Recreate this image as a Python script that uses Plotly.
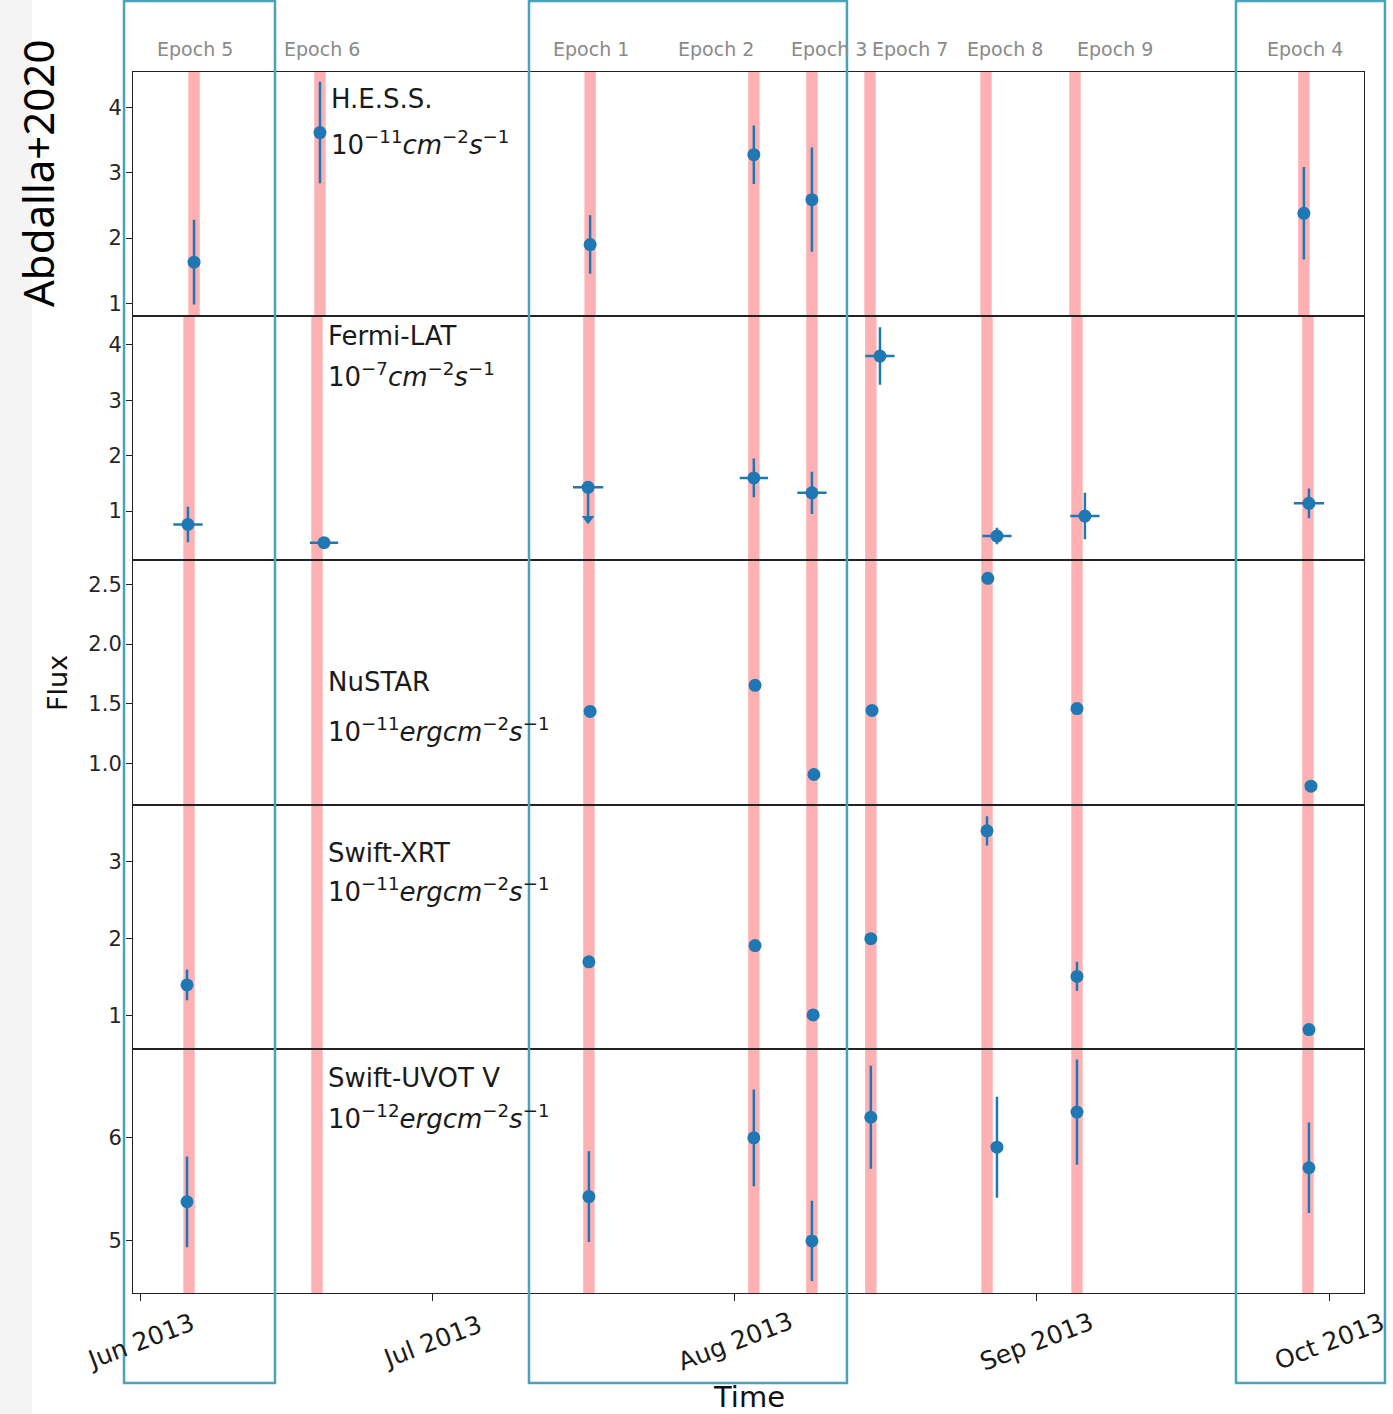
import pandas as pd
import plotly.graph_objects as go
from plotly.subplots import make_subplots

# ---------------- data ----------------
hess_t = ["2013-06-06 13:00", "2013-06-19 11:00", "2013-07-17 04:00",
          "2013-08-02 23:00", "2013-08-08 22:00", "2013-09-28 09:00"]
hess_f = [1.63, 3.62, 1.90, 3.28, 2.59, 2.38]
hess_e = [0.65, 0.78, 0.45, 0.45, 0.80, 0.71]

fermi_t = ["2013-06-05 22:00", "2013-06-19 21:00", "2013-07-16 23:00",
           "2013-08-02 23:00", "2013-08-08 22:00", "2013-08-15 21:30",
           "2013-08-27 21:30", "2013-09-05 22:00", "2013-09-28 21:30"]
fermi_f = [0.76, 0.43, 1.43, 1.60, 1.33, 3.80, 0.55, 0.91, 1.14]
fermi_e_up = [0.32, 0.05, 0.00, 0.35, 0.38, 0.52, 0.15, 0.42, 0.27]
fermi_e_dn = [0.32, 0.05, 0.53, 0.35, 0.38, 0.52, 0.15, 0.42, 0.27]
fermi_xerr_days = [1.5, 1.45, 1.55, 1.45, 1.5, 1.5, 1.5, 1.5, 1.55]
fermi_ul_t = ["2013-07-16 23:00"]
fermi_ul_f = [0.86]

nustar_t = ["2013-07-17 04:00", "2013-08-03 02:00", "2013-08-09 03:00",
            "2013-08-15 02:00", "2013-08-26 23:00", "2013-09-05 02:30",
            "2013-09-29 02:30"]
nustar_f = [1.436, 1.654, 0.908, 1.444, 2.55, 1.46, 0.81]
nustar_e = [0.02, 0.02, 0.02, 0.02, 0.02, 0.02, 0.02]

xrt_t = ["2013-06-05 19:40", "2013-07-17 01:00", "2013-08-03 02:00",
         "2013-08-09 01:00", "2013-08-14 23:00", "2013-08-26 21:00",
         "2013-09-05 02:30", "2013-09-28 21:30"]
xrt_f = [1.40, 1.70, 1.91, 1.01, 2.00, 3.40, 1.51, 0.82]
xrt_e = [0.20, 0.04, 0.04, 0.04, 0.04, 0.19, 0.19, 0.04]

uvot_t = ["2013-06-05 19:40", "2013-07-17 01:00", "2013-08-02 23:00",
          "2013-08-08 22:00", "2013-08-14 23:00", "2013-08-27 21:30",
          "2013-09-05 02:30", "2013-09-28 21:30"]
uvot_f = [5.38, 5.43, 6.00, 5.00, 6.20, 5.91, 6.25, 5.71]
uvot_e = [0.44, 0.44, 0.47, 0.39, 0.50, 0.49, 0.51, 0.44]

# epoch bands (top panel slightly shifted from the lower panels)
band_hess = ["2013-06-06 13:00", "2013-06-19 11:00", "2013-07-17 04:00",
             "2013-08-02 23:00", "2013-08-08 22:00", "2013-08-14 21:00",
             "2013-08-26 18:30", "2013-09-04 21:30", "2013-09-28 09:00"]
band_lower = ["2013-06-06 00:40", "2013-06-19 03:40", "2013-07-17 01:00",
              "2013-08-02 23:00", "2013-08-08 22:00", "2013-08-14 23:00",
              "2013-08-26 21:00", "2013-09-05 02:30", "2013-09-28 19:00"]

epoch_names = ["Epoch 5", "Epoch 6", "Epoch 1", "Epoch 2", "Epoch 3",
               "Epoch 7", "Epoch 8", "Epoch 9", "Epoch 4"]
epoch_label_t = ["2013-06-06 15:00", "2013-06-19 16:00", "2013-07-17 06:00",
                 "2013-07-30 02:00", "2013-08-10 16:00", "2013-08-18 23:00",
                 "2013-08-28 17:00", "2013-09-09 00:00", "2013-09-28 12:00"]

# highlighted epoch groups (teal boxes)
box_start = ["2013-05-30 08:37", "2013-07-10 21:30", "2013-09-21 09:50"]
box_end = ["2013-06-14 20:18", "2013-08-12 12:15", "2013-10-06 16:35"]

month_ticks = ["2013-06-01", "2013-07-01", "2013-08-01", "2013-09-01", "2013-10-01"]
month_labels = ["Jun 2013", "Jul 2013", "Aug 2013", "Sep 2013", "Oct 2013"]

panel_names = ["H.E.S.S.", "Fermi-LAT", "NuSTAR", "Swift-XRT", "Swift-UVOT V"]
panel_units = [
    "10<sup>−11</sup><i>cm</i><sup>−2</sup><i>s</i><sup>−1</sup>",
    "10<sup>−7</sup><i>cm</i><sup>−2</sup><i>s</i><sup>−1</sup>",
    "10<sup>−11</sup><i>ergcm</i><sup>−2</sup><i>s</i><sup>−1</sup>",
    "10<sup>−11</sup><i>ergcm</i><sup>−2</sup><i>s</i><sup>−1</sup>",
    "10<sup>−12</sup><i>ergcm</i><sup>−2</sup><i>s</i><sup>−1</sup>",
]
y_ranges = [[0.80, 4.55], [0.11, 4.52], [0.656, 2.70], [0.571, 3.74], [4.495, 6.864]]
y_ticks = [[1, 2, 3, 4], [1, 2, 3, 4], [1.0, 1.5, 2.0, 2.5], [1, 2, 3], [5, 6]]

x_range = ["2013-05-31 06:45", "2013-10-04 13:00"]

# ---------------- layout constants ----------------
W, H = 1393, 1414
ML, MR, MT, MB = 133, 29, 72, 121
PW, PH = W - ML - MR, H - MT - MB
BLUE = "#1f77b4"
BAND = "#fdb1b3"
TEAL = "#4aa3ba"
FONT = "DejaVu Sans"

x0t, x1t = pd.Timestamp(x_range[0]), pd.Timestamp(x_range[1])


def xpaper(t):
    return (pd.Timestamp(t) - x0t) / (x1t - x0t)


def ypix(py):
    return (H - MB - py) / PH


def xpix(px):
    return (px - ML) / PW


fig = make_subplots(rows=5, cols=1, shared_xaxes=True, vertical_spacing=0)

err_style = dict(thickness=2.5, width=0, color=BLUE)
mk = dict(color=BLUE, size=13)

# Fermi horizontal (time-bin) error bars, built from the data arrays
fx, fy = [], []
for t, f, dx in zip(fermi_t, fermi_f, fermi_xerr_days):
    c = pd.Timestamp(t)
    d = pd.Timedelta(days=dx)
    fx += [c - d, c + d, None]
    fy += [f, f, None]

fig.add_trace(go.Scatter(x=hess_t, y=hess_f, mode="markers", marker=mk,
                         error_y=dict(type="data", array=hess_e, **err_style)), row=1, col=1)
fig.add_trace(go.Scatter(x=fx, y=fy, mode="lines", line=dict(color=BLUE, width=2.5),
                         connectgaps=False), row=2, col=1)
fig.add_trace(go.Scatter(x=fermi_t, y=fermi_f, mode="markers", marker=mk,
                         error_y=dict(type="data", array=fermi_e_up, arrayminus=fermi_e_dn,
                                      symmetric=False, **err_style)), row=2, col=1)
fig.add_trace(go.Scatter(x=fermi_ul_t, y=fermi_ul_f, mode="markers",
                         marker=dict(color=BLUE, size=11, symbol="triangle-down")), row=2, col=1)
fig.add_trace(go.Scatter(x=nustar_t, y=nustar_f, mode="markers", marker=mk,
                         error_y=dict(type="data", array=nustar_e, **err_style)), row=3, col=1)
fig.add_trace(go.Scatter(x=xrt_t, y=xrt_f, mode="markers", marker=mk,
                         error_y=dict(type="data", array=xrt_e, **err_style)), row=4, col=1)
fig.add_trace(go.Scatter(x=uvot_t, y=uvot_f, mode="markers", marker=mk,
                         error_y=dict(type="data", array=uvot_e, **err_style)), row=5, col=1)

shapes = []
half = pd.Timedelta(hours=14)
for r in range(1, 6):
    bands = band_hess if r == 1 else band_lower
    yref = "y domain" if r == 1 else f"y{r} domain"
    xref = "x" if r == 1 else f"x{r}"
    for b in bands:
        c = pd.Timestamp(b)
        shapes.append(dict(type="rect", xref=xref, yref=yref,
                           x0=c - half, x1=c + half, y0=0, y1=1,
                           fillcolor=BAND, line=dict(width=0), layer="below"))

# left grey strip
shapes.append(dict(type="rect", xref="paper", yref="paper",
                   x0=xpix(0), x1=xpix(32), y0=ypix(H), y1=ypix(0),
                   fillcolor="#f4f4f4", line=dict(width=0), layer="below"))
# teal boxes
for s, e in zip(box_start, box_end):
    shapes.append(dict(type="rect", xref="paper", yref="paper",
                       x0=xpaper(s), x1=xpaper(e), y0=ypix(1383), y1=ypix(1),
                       line=dict(color=TEAL, width=2.5), fillcolor="rgba(0,0,0,0)",
                       layer="above"))

annotations = []
# epoch labels
for name, t in zip(epoch_names, epoch_label_t):
    annotations.append(dict(x=xpaper(t), y=ypix(49), xref="paper", yref="paper",
                            text=name, showarrow=False, xanchor="center", yanchor="middle",
                            font=dict(family=FONT, size=19, color="#8a8a8a")))

# panel labels
name_y = [0.89, 0.918, 0.50, 0.803, 0.881]
unit_y = [0.71, 0.758, 0.307, 0.652, 0.721]
label_x = ["2013-06-20 10:00", "2013-06-20 02:00", "2013-06-20 02:00",
           "2013-06-20 02:00", "2013-06-20 02:00"]
for i in range(5):
    yref = "y domain" if i == 0 else f"y{i + 1} domain"
    xref = "x" if i == 0 else f"x{i + 1}"
    annotations.append(dict(x=label_x[i], y=name_y[i], xref=xref, yref=yref,
                            text=panel_names[i], showarrow=False, xanchor="left",
                            yanchor="middle",
                            font=dict(family=FONT, size=26, color="#1a1a1a")))
    annotations.append(dict(x=label_x[i], y=unit_y[i], xref=xref, yref=yref,
                            text=panel_units[i], showarrow=False, xanchor="left",
                            yanchor="middle",
                            font=dict(family=FONT, size=26, color="#1a1a1a")))

# month labels (rotated, centered under ticks)
for t, lab in zip(month_ticks, month_labels):
    annotations.append(dict(x=xpaper(t), y=ypix(1341), xref="paper", yref="paper",
                            text=lab, showarrow=False, textangle=-21,
                            xanchor="center", yanchor="middle",
                            font=dict(family=FONT, size=25, color="#1a1a1a")))

annotations.append(dict(x=xpix(749), y=ypix(1397), xref="paper", yref="paper",
                        text="Time", showarrow=False, xanchor="center", yanchor="middle",
                        font=dict(family=FONT, size=29, color="#111")))
annotations.append(dict(x=xpix(57), y=ypix(683), xref="paper", yref="paper",
                        text="Flux", showarrow=False, textangle=-90,
                        xanchor="center", yanchor="middle",
                        font=dict(family=FONT, size=27, color="#111")))
annotations.append(dict(x=xpix(37), y=ypix(174), xref="paper", yref="paper",
                        text="Abdalla+2020", showarrow=False, textangle=-90,
                        xanchor="center", yanchor="middle",
                        font=dict(family="Noto Sans", size=42, color="#000")))

fig.update_layout(width=W, height=H, showlegend=False,
                  margin=dict(l=ML, r=MR, t=MT, b=MB, autoexpand=False),
                  plot_bgcolor="white", paper_bgcolor="white",
                  shapes=shapes, annotations=annotations)

for r in range(1, 6):
    fig.update_yaxes(row=r, col=1, range=y_ranges[r - 1], tickvals=y_ticks[r - 1],
                     tickformat=".1f" if r == 3 else "d",
                     showgrid=False, zeroline=False, showline=True, mirror=True,
                     linecolor="#222", linewidth=1.1, ticks="outside", ticklen=6,
                     tickwidth=1.2, tickcolor="#222",
                     tickfont=dict(family=FONT, size=21, color="#262626"))
    fig.update_xaxes(row=r, col=1, range=x_range, type="date",
                     tickvals=month_ticks, showticklabels=False,
                     showgrid=False, zeroline=False, showline=True, mirror=True,
                     linecolor="#222", linewidth=1.1,
                     ticks="outside" if r == 5 else "", ticklen=7, tickwidth=1.2,
                     tickcolor="#222")

fig.write_html("out.html", config={"displayModeBar": False},
               post_script="document.body.style.margin='0';document.body.style.overflow='hidden';")
